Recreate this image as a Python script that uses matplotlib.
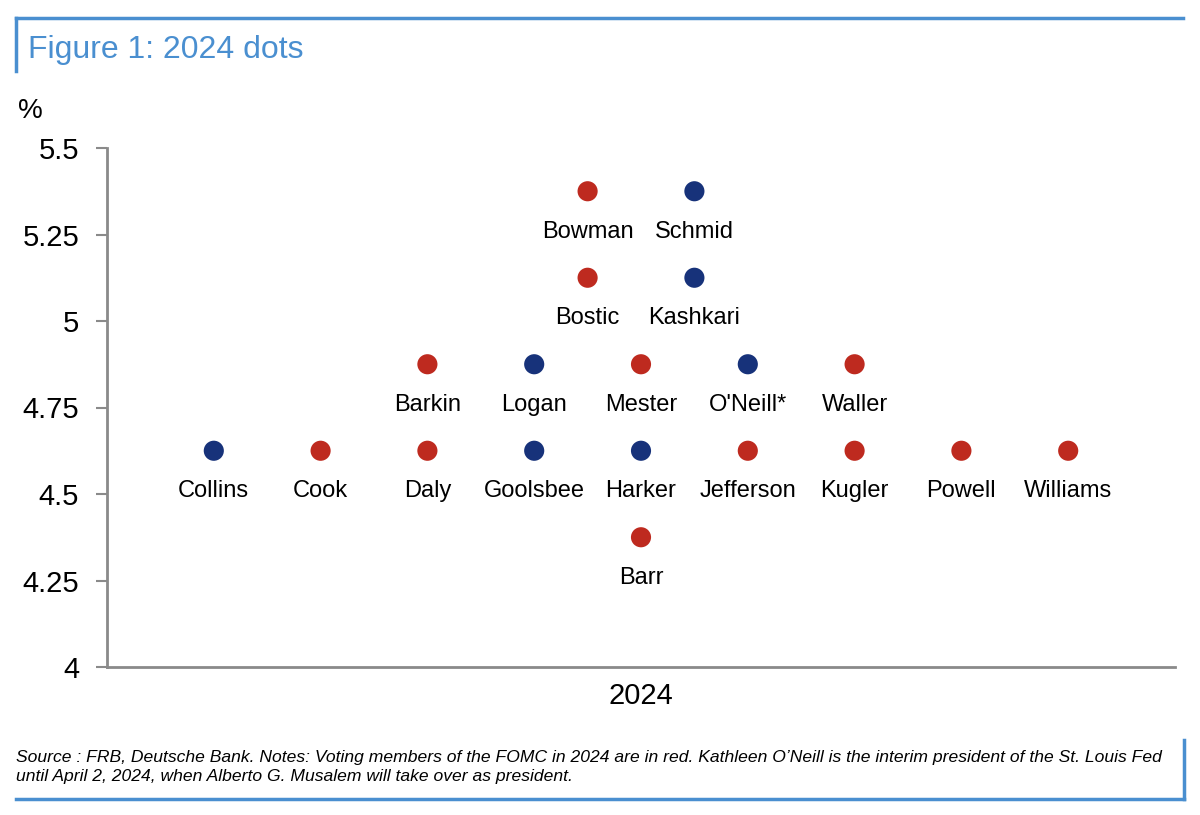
import matplotlib.pyplot as plt
from matplotlib.lines import Line2D

plt.rcParams['font.family'] = ['Liberation Sans', 'DejaVu Sans']

# 2024 dots, each participant: median of projected rate (%), voter or not
names = ['Bowman', 'Schmid',
         'Bostic', 'Kashkari',
         'Barkin', 'Logan', 'Mester', "O'Neill*", 'Waller',
         'Collins', 'Cook', 'Daly', 'Goolsbee', 'Harker', 'Jefferson', 'Kugler', 'Powell', 'Williams',
         'Barr']
rates = [5.375, 5.375,
         5.125, 5.125,
         4.875, 4.875, 4.875, 4.875, 4.875,
         4.625, 4.625, 4.625, 4.625, 4.625, 4.625, 4.625, 4.625, 4.625,
         4.375]
voter = [1, 0,
         1, 0,
         1, 0, 1, 0, 1,
         0, 1, 1, 0, 0, 1, 1, 1, 1,
         1]
yticks = [4, 4.25, 4.5, 4.75, 5, 5.25, 5.5]
ytick_labels = ['4', '4.25', '4.5', '4.75', '5', '5.25', '5.5']

RED = '#BE2A1F'
BLUE = '#17327A'
LINE_BLUE = '#4A8FD0'

# stack dots of same level centred on the middle column
levels = {}
for i, r in enumerate(rates):
    levels.setdefault(r, []).append(i)
xs = [0] * len(rates)
for r, idx in levels.items():
    n = len(idx)
    for k, i in enumerate(idx):
        xs[i] = 5 + k - (n - 1) / 2

fig = plt.figure(figsize=(12, 8.15), dpi=100)
ax = fig.add_axes([107/1200, 1-667/815, (1175-107)/1200, (667-148)/815])

cols = [RED if v else BLUE for v in voter]
ax.scatter(xs, rates, s=210, c=cols, zorder=3, linewidths=0)
for x, y, n in zip(xs, rates, names):
    ax.annotate(n, (x, y), xytext=(0, -29), textcoords='offset points',
                ha='center', va='center', fontsize=17)

ax.set_xlim(0, 10)
ax.set_ylim(4, 5.5)
ax.set_yticks(yticks)
ax.set_yticklabels(ytick_labels, fontsize=21)
ax.set_xticks([])
for s in ['top', 'right']:
    ax.spines[s].set_visible(False)
for s in ['left', 'bottom']:
    ax.spines[s].set_color('#8a8a8a')
    ax.spines[s].set_linewidth(2)
ax.tick_params(axis='y', length=8, width=1.5, color='#8a8a8a', pad=12)
ax.set_xlabel('2024', fontsize=21, labelpad=11)

fig.text(18/1200, 1-111/815, '%', fontsize=20, va='center', ha='left')
fig.text(28/1200, 1-50/815, 'Figure 1: 2024 dots', fontsize=23, color=LINE_BLUE,
         va='center', ha='left')
fig.text(16/1200, 1-767/815,
         "Source : FRB, Deutsche Bank. Notes: Voting members of the FOMC in 2024 are in red. "
         "Kathleen O\u2019Neill is the interim president of the St. Louis Fed\n"
         "until April 2, 2024, when Alberto G. Musalem will take over as president.",
         fontsize=12.6, style='italic', va='center', ha='left', linespacing=1.4)

# frame lines of the exhibit
fig.add_artist(Line2D([16/1200, 1183/1200], [1-18/815, 1-18/815], color=LINE_BLUE, lw=2.5))
fig.add_artist(Line2D([16/1200, 16/1200], [1-18/815, 1-71/815], color=LINE_BLUE, lw=2.5))
fig.add_artist(Line2D([16/1200, 1184/1200], [1-799/815, 1-799/815], color=LINE_BLUE, lw=2.5))
fig.add_artist(Line2D([1184/1200, 1184/1200], [1-740/815, 1-799/815], color=LINE_BLUE, lw=2.5))

fig.savefig('out.png', dpi=100)
